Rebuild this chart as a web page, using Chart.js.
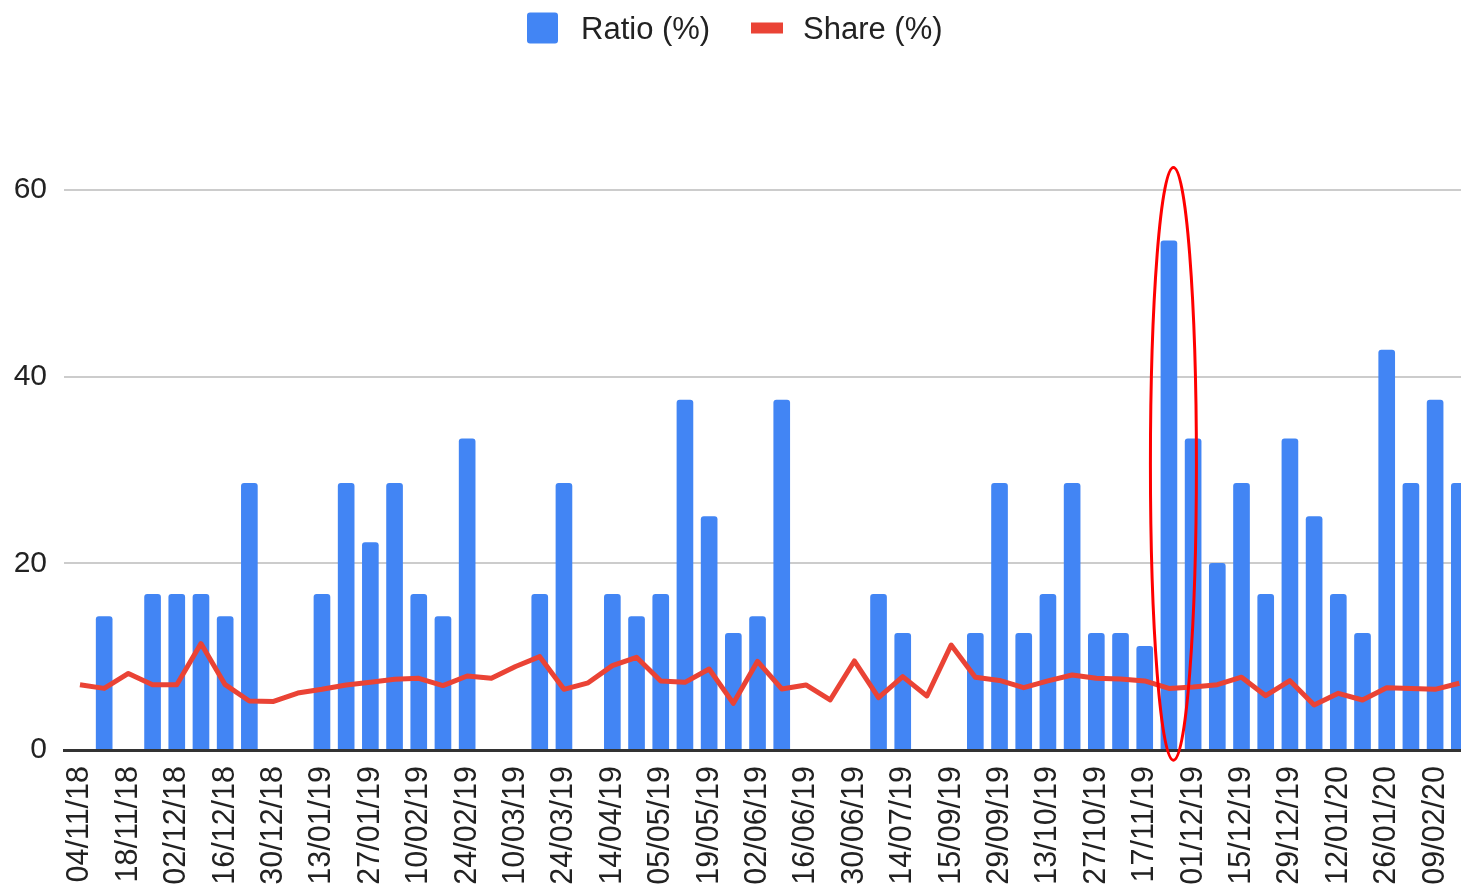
<!DOCTYPE html>
<html>
<head>
<meta charset="utf-8">
<script src="https://cdn.jsdelivr.net/npm/chart.js@4.4.1/dist/chart.umd.min.js"></script>
<style>
html,body{margin:0;padding:0;background:#ffffff;overflow:hidden;}
#wrap{width:1461px;height:891px;position:relative;}
canvas{display:block;}
</style>
</head>
<body>
<div id="wrap"><canvas id="c" width="1461" height="891"></canvas></div>
<script>
// ---- data ----
const categories = [
  '04/11/18','11/11/18','18/11/18','25/11/18','02/12/18','09/12/18','16/12/18','23/12/18',
  '30/12/18','06/01/19','13/01/19','20/01/19','27/01/19','03/02/19','10/02/19','17/02/19',
  '24/02/19','03/03/19','10/03/19','17/03/19','24/03/19','31/03/19','14/04/19','28/04/19',
  '05/05/19','12/05/19','19/05/19','26/05/19','02/06/19','09/06/19','16/06/19','23/06/19',
  '30/06/19','07/07/19','14/07/19','01/09/19','15/09/19','22/09/19','29/09/19','06/10/19',
  '13/10/19','20/10/19','27/10/19','10/11/19','17/11/19','24/11/19','01/12/19','08/12/19',
  '15/12/19','22/12/19','29/12/19','05/01/20','12/01/20','19/01/20','26/01/20','02/02/20',
  '09/02/20','16/02/20'
];
const ratioValues = [
  null, 14.29, null, 16.67, 16.67, 16.67, 14.29, 28.57,
  null, null, 16.67, 28.57, 22.22, 28.57, 16.67, 14.29,
  33.33, null, null, 16.67, 28.57, null, 16.67, 14.29,
  16.67, 37.5, 25, 12.5, 14.29, 37.5, null, null,
  null, 16.67, 12.5, null, null, 12.5, 28.57, 12.5,
  16.67, 28.57, 12.5, 12.5, 11.11, 54.55, 33.33, 20,
  28.57, 16.67, 33.33, 25, 16.67, 12.5, 42.86, 28.57,
  37.5, 28.57
];
const shareValues = [
  7.0, 6.6, 8.2, 7.0, 7.0, 11.4, 7.0, 5.25,
  5.2, 6.1, 6.5, 6.97, 7.25, 7.57, 7.68, 6.9,
  7.93, 7.68, 8.95, 10.0, 6.5, 7.2, 9.04, 9.93,
  7.4, 7.25, 8.68, 5.0, 9.5, 6.54, 6.97, 5.36,
  9.54, 5.6, 7.86, 5.79, 11.25, 7.79, 7.45, 6.68,
  7.4, 8.04, 7.68, 7.6, 7.4, 6.6, 6.75, 7.0,
  7.8, 5.82, 7.43, 4.82, 6.07, 5.36, 6.68, 6.6,
  6.5, 7.15
];
const seriesNames = ['Ratio (%)', 'Share (%)'];
const yTickValues = [0, 20, 40, 60];
const highlightIndex = 45;

// ---- styles ----
const FONT = '"Liberation Sans", Arial, Helvetica, sans-serif';
const BLUE = '#4285F4';
const RED = '#EA4335';
const TEXT = '#222222';

const legendPlugin = {
  id: 'customLegend',
  afterDraw(chart) {
    const ctx = chart.ctx;
    ctx.save();
    ctx.font = '31px ' + FONT;
    ctx.textBaseline = 'alphabetic';
    ctx.fillStyle = BLUE;
    ctx.beginPath();
    ctx.roundRect(527, 12.5, 31, 31, 3);
    ctx.fill();
    ctx.fillStyle = TEXT;
    ctx.fillText(seriesNames[0], 581, 38.5);
    ctx.fillStyle = RED;
    ctx.fillRect(751, 22.5, 32, 11);
    ctx.fillStyle = TEXT;
    ctx.fillText(seriesNames[1], 803, 38.5);
    ctx.restore();
  }
};

const ellipsePlugin = {
  id: 'highlightEllipse',
  afterDraw(chart) {
    const xs = chart.scales.x, ys = chart.scales.y;
    const cx = xs.getPixelForValue(highlightIndex) + 4.5;
    const yTop = ys.getPixelForValue(62.4);
    const yBot = ys.getPixelForValue(-1.1);
    const ctx = chart.ctx;
    ctx.save();
    ctx.strokeStyle = '#FF0000';
    ctx.lineWidth = 3;
    ctx.beginPath();
    ctx.ellipse(cx, (yTop + yBot) / 2, 23, (yBot - yTop) / 2, 0, 0, Math.PI * 2);
    ctx.stroke();
    ctx.restore();
  }
};

new Chart(document.getElementById('c'), {
  data: {
    datasets: [
      {
        type: 'line',
        label: seriesNames[1],
        data: shareValues.map((v, i) => ({x: i, y: v})),
        borderColor: RED,
        backgroundColor: RED,
        borderWidth: 5,
        pointRadius: 0,
        tension: 0,
        borderJoinStyle: 'round',
        borderCapStyle: 'butt',
        order: 0
      },
      {
        type: 'bar',
        label: seriesNames[0],
        data: ratioValues.map((v, i) => ({x: i, y: v})),
        backgroundColor: BLUE,
        barThickness: 16,
        borderRadius: {topLeft: 3, topRight: 3, bottomLeft: 0, bottomRight: 0},
        borderSkipped: false,
        order: 1
      }
    ]
  },
  options: {
    responsive: false,
    animation: false,
    devicePixelRatio: 1,
    layout: {padding: {top: 190, left: 0, right: 0, bottom: 0}},
    plugins: {
      legend: {display: false},
      tooltip: {enabled: false}
    },
    scales: {
      x: {
        type: 'linear',
        min: -0.66,
        max: 57.07,
        offset: false,
        afterBuildTicks(s) {
          s.ticks = categories.map((c, i) => i).filter(i => i % 2 === 0).map(v => ({value: v}));
        },
        ticks: {
          autoSkip: false,
          maxRotation: 90,
          minRotation: 90,
          padding: 16,
          color: TEXT,
          font: {family: FONT, size: 30.5},
          callback: (v) => categories[v]
        },
        grid: {display: false, drawTicks: false},
        border: {display: true, color: '#333333', width: 3, z: 1},
        afterFit(s) { s.height = 141; s.paddingLeft = 0; s.paddingRight = 0; }
      },
      y: {
        type: 'linear',
        min: 0,
        max: 60,
        afterBuildTicks(s) {
          s.ticks = yTickValues.map(v => ({value: v}));
        },
        ticks: {
          padding: 17,
          color: TEXT,
          font: {family: FONT, size: 30}
        },
        grid: {
          drawTicks: false,
          lineWidth: 2,
          color: (c) => (c.tick && c.tick.value === 0) ? 'rgba(0,0,0,0)' : '#cccccc'
        },
        border: {display: false},
        afterFit(s) { s.width = 64; s.paddingTop = 0; s.paddingBottom = 0; }
      }
    }
  },
  plugins: [legendPlugin, ellipsePlugin]
});
</script>
</body>
</html>
